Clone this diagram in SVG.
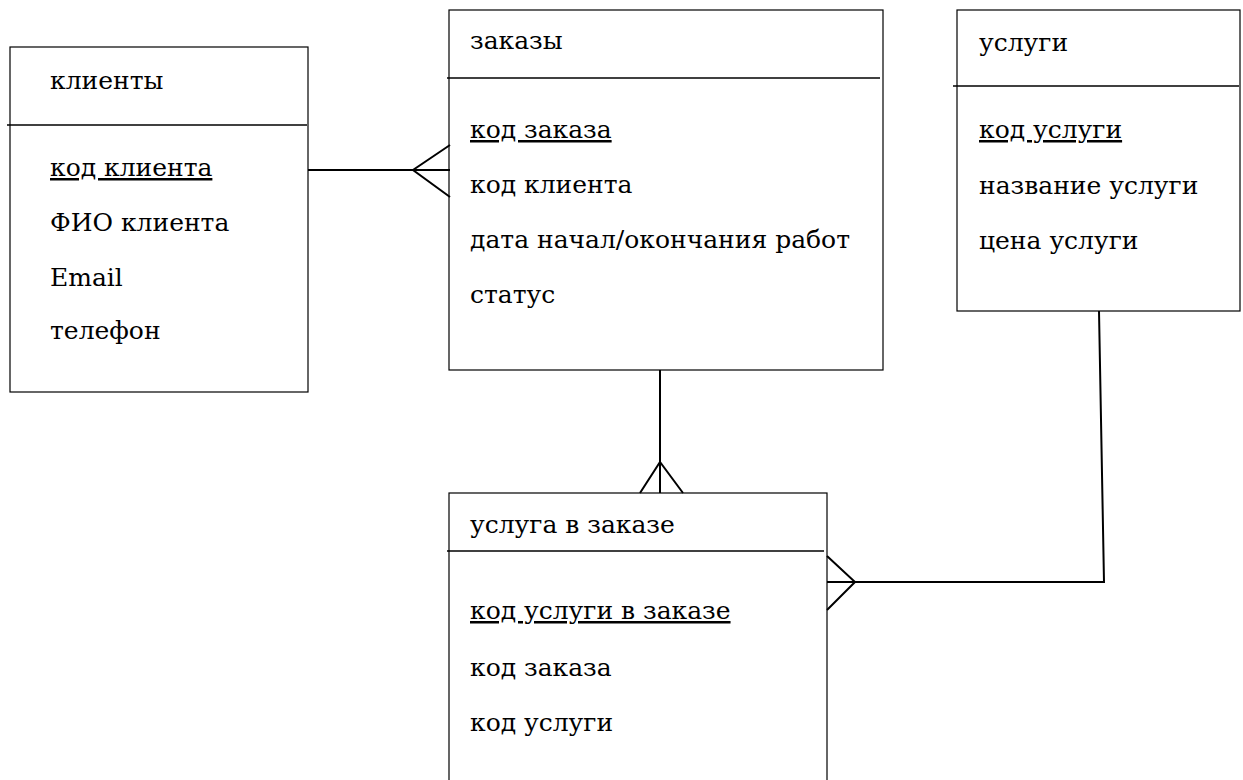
<svg xmlns="http://www.w3.org/2000/svg" width="1243" height="780" viewBox="0 0 1243 780">
<style>
.box{fill:#fff;stroke:#000;stroke-width:1.2}
.sep{stroke:#000;stroke-width:1.6}
.t{font-family:'DejaVu Serif', serif;font-size:25px;fill:#000}
.u{text-decoration:underline}
.c{fill:none;stroke:#000;stroke-width:2}
</style>
<rect width="1243" height="780" fill="#fff"/>
<g id="klienty">
<rect class="box" x="10" y="47" width="298" height="345"/>
<line class="sep" x1="7" y1="125" x2="307" y2="125"/>
<text class="t" x="50" y="89">клиенты</text>
<text class="t u" x="50" y="176">код клиента</text>
<text class="t" x="50" y="231">ФИО клиента</text>
<text class="t" x="50" y="286">Email</text>
<text class="t" x="50" y="339">телефон</text>
</g>
<g id="zakazy">
<rect class="box" x="449" y="10" width="434" height="360"/>
<line class="sep" x1="447" y1="78" x2="880" y2="78"/>
<text class="t" x="470" y="49">заказы</text>
<text class="t u" x="470" y="138">код заказа</text>
<text class="t" x="470" y="193">код клиента</text>
<text class="t" x="470" y="248">дата начал/окончания работ</text>
<text class="t" x="470" y="303">статус</text>
</g>
<g id="uslugi">
<rect class="box" x="957" y="10" width="283" height="301"/>
<line class="sep" x1="953" y1="86" x2="1239" y2="86"/>
<text class="t" x="979" y="51">услуги</text>
<text class="t u" x="979" y="138">код услуги</text>
<text class="t" x="979" y="194">название услуги</text>
<text class="t" x="979" y="249">цена услуги</text>
</g>
<g id="usluga-v-zakaze">
<rect class="box" x="449" y="493" width="378" height="300"/>
<line class="sep" x1="447" y1="551" x2="824" y2="551"/>
<text class="t" x="470" y="533">услуга в заказе</text>
<text class="t u" x="470" y="619">код услуги в заказе</text>
<text class="t" x="470" y="676">код заказа</text>
<text class="t" x="470" y="731">код услуги</text>
</g>
<g id="connectors">
<line class="c" x1="308" y1="170" x2="450" y2="170"/>
<polyline class="c" points="450,145 413,170 450,197"/>
<line class="c" x1="660" y1="370" x2="660" y2="493"/>
<polyline class="c" points="640,493 660,462 683,493"/>
<polyline class="c" points="827,582 1104,582 1099,311"/>
<polyline class="c" points="827,556 855,582 827,610"/>
</g>
</svg>
